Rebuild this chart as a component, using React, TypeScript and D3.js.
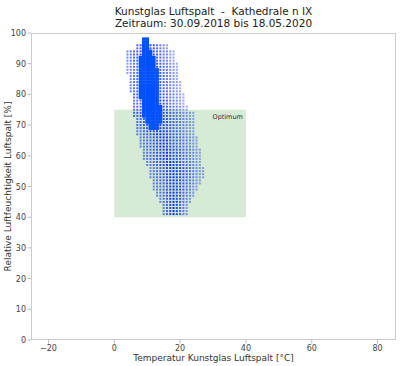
import { useEffect, useRef } from "react"
import * as d3 from "d3"

// Each row of the cloud covers two humidity steps (hum, hum + 1)
const rowHum = [97, 95, 93, 91, 89, 87, 85, 83, 81, 79, 77, 75, 73, 71, 69, 67, 65, 63, 61, 59, 57, 55, 53, 51, 49, 47, 45, 43, 41]
const rowTMin = [9, 7, 4, 4, 4, 4, 5, 5, 5, 6, 6, 6, 6, 7, 7, 7, 8, 8, 9, 9, 10, 11, 11, 12, 12, 13, 14, 15, 15]
const rowTMax = [10, 16, 18, 18, 19, 19, 19, 20, 20, 21, 21, 22, 24, 24, 24, 24, 25, 25, 26, 26, 26, 27, 27, 26, 25, 24, 23, 22, 22]
const rowCoreMin = [9, 9, 9, 8, 8, 8, 8, 8, 8, 8, 9, 9, 9, 10, 11, 0, 0, 0, 0, 0, 0, 0, 0, 0, 0, 0, 0, 0, 0]
const rowCoreMax = [10, 10, 11, 12, 12, 13, 13, 13, 13, 13, 13, 14, 14, 14, 13, -1, -1, -1, -1, -1, -1, -1, -1, -1, -1, -1, -1, -1, -1]
const rowPeak = [9, 10, 10, 10, 11, 11, 11, 11, 11, 11, 12, 12, 12, 13, 13, 14, 15, 15, 16, 16, 17, 18, 18, 18, 18, 18, 18, 18, 18]

const xTicks = [-20, 0, 20, 40, 60, 80]
const yTicks = [0, 10, 20, 30, 40, 50, 60, 70, 80, 90, 100]
const optimum = { t0: 0, t1: 40, h0: 40, h1: 75 }

const FONT = "DejaVu Sans, sans-serif"

export default function App() {
  const svgRef = useRef<SVGSVGElement>(null)

  useEffect(() => {
    if (!svgRef.current) return
    d3.select(svgRef.current).selectAll("*").remove()

    const width = 400
    const height = 366
    const margin = { top: 33, right: 4, bottom: 26, left: 31 }

    const x = d3.scaleLinear().domain([-25.3, 85.6]).range([margin.left, width - margin.right])
    const y = d3.scaleLinear().domain([0, 100]).range([height - margin.bottom, margin.top])

    const svg = d3.select(svgRef.current).attr("width", width).attr("height", height)

    svg.append("rect").attr("width", width).attr("height", height).attr("fill", "white")

    // Optimum zone
    svg
      .append("rect")
      .attr("x", x(optimum.t0))
      .attr("y", y(optimum.h1))
      .attr("width", x(optimum.t1) - x(optimum.t0))
      .attr("height", y(optimum.h0) - y(optimum.h1))
      .attr("fill", "#d5ebd5")

    svg
      .append("text")
      .attr("x", x(optimum.t1) - 3)
      .attr("y", y(optimum.h1) + 9)
      .attr("text-anchor", "end")
      .attr("font-family", FONT)
      .attr("font-size", "6.5px")
      .attr("fill", "#333")
      .text("Optimum")

    // Measurement cloud
    const cw = x(1) - x(0)
    const ch = y(0) - y(1)
    const pts: { t: number; h: number; a: number; core: boolean }[] = []
    rowHum.forEach((h0, i) => {
      const half = Math.max(rowPeak[i] - rowTMin[i], rowTMax[i] - rowPeak[i]) + 1
      for (const h of [h0, h0 + 1]) {
        for (let t = rowTMin[i]; t <= rowTMax[i]; t++) {
          const core = t >= rowCoreMin[i] && t <= rowCoreMax[i]
          const d = Math.abs(t - rowPeak[i]) / half
          const a = 0.35 + 0.65 * (1 - d)
          pts.push({ t, h, a, core })
        }
      }
    })

    const g = svg.append("g")
    g.selectAll("rect.pt")
      .data(pts.filter((p) => !p.core))
      .enter()
      .append("rect")
      .attr("class", "pt")
      .attr("x", (p) => x(p.t) - 1)
      .attr("y", (p) => y(p.h) - 1)
      .attr("width", 2)
      .attr("height", 2)
      .attr("fill", "#0a2cff")
      .attr("fill-opacity", (p) => p.a)

    g.selectAll("rect.core")
      .data(pts.filter((p) => p.core))
      .enter()
      .append("rect")
      .attr("class", "core")
      .attr("x", (p) => x(p.t) - cw / 2 - 0.2)
      .attr("y", (p) => y(p.h) - ch / 2 - 0.2)
      .attr("width", cw + 0.4)
      .attr("height", ch + 0.4)
      .attr("fill", "#0050ff")

    // Spines
    svg
      .append("rect")
      .attr("x", margin.left + 0.5)
      .attr("y", margin.top + 0.5)
      .attr("width", width - margin.left - margin.right - 1)
      .attr("height", height - margin.top - margin.bottom - 1)
      .attr("fill", "none")
      .attr("stroke", "#cccccc")
      .attr("stroke-width", 1)

    // X ticks
    const xb = height - margin.bottom
    xTicks.forEach((t) => {
      svg
        .append("line")
        .attr("x1", x(t))
        .attr("x2", x(t))
        .attr("y1", xb)
        .attr("y2", xb + 3.5)
        .attr("stroke", "#bbbbbb")
      svg
        .append("text")
        .attr("x", x(t))
        .attr("y", xb + 10.5)
        .attr("text-anchor", "middle")
        .attr("font-family", FONT)
        .attr("font-size", "8px")
        .attr("fill", "#444")
        .text(t < 0 ? `\u2212${-t}` : `${t}`)
    })

    // Y ticks
    yTicks.forEach((t) => {
      svg
        .append("line")
        .attr("x1", margin.left - 3.5)
        .attr("x2", margin.left)
        .attr("y1", y(t))
        .attr("y2", y(t))
        .attr("stroke", "#bbbbbb")
      svg
        .append("text")
        .attr("x", margin.left - 5)
        .attr("y", y(t) + 3)
        .attr("text-anchor", "end")
        .attr("font-family", FONT)
        .attr("font-size", "8px")
        .attr("fill", "#444")
        .text(`${t}`)
    })

    // Axis labels
    svg
      .append("text")
      .attr("x", (margin.left + width - margin.right) / 2)
      .attr("y", 361)
      .attr("text-anchor", "middle")
      .attr("font-family", FONT)
      .attr("font-size", "9px")
      .attr("fill", "#333")
      .text("Temperatur Kunstglas Luftspalt [°C]")

    svg
      .append("text")
      .attr("transform", `translate(11,${(margin.top + height - margin.bottom) / 2}) rotate(-90)`)
      .attr("text-anchor", "middle")
      .attr("font-family", FONT)
      .attr("font-size", "9px")
      .attr("fill", "#333")
      .text("Relative Luftfeuchtigkeit Luftspalt [%]")

    // Title
    const title = ["Kunstglas Luftspalt  -  Kathedrale n IX", "Zeitraum: 30.09.2018 bis 18.05.2020"]
    title.forEach((line, i) => {
      svg
        .append("text")
        .attr("x", (margin.left + width - margin.right) / 2)
        .attr("y", 15 + i * 12)
        .attr("text-anchor", "middle")
        .attr("font-family", FONT)
        .attr("font-size", "10.5px")
        .attr("fill", "#222")
        .style("white-space", "pre")
        .text(line)
    })
  }, [])

  return <svg ref={svgRef} style={{ position: "absolute", left: 0, top: 0 }} />
}
